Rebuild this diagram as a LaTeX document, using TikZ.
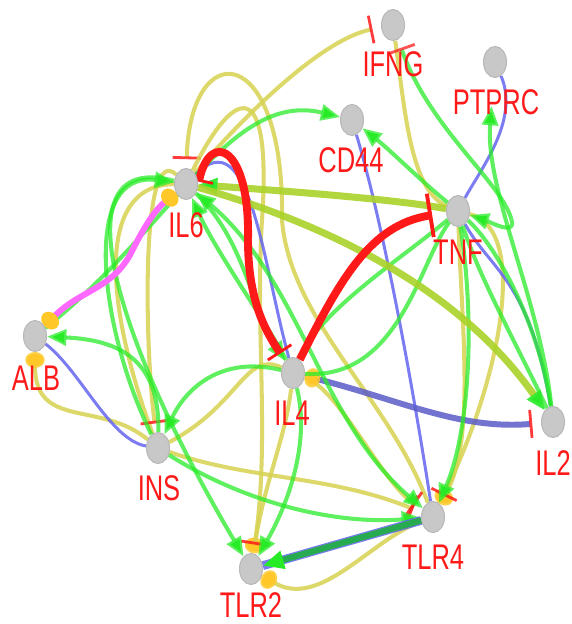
\documentclass[tikz,border=0pt]{standalone}
\usepackage{fontspec}
\setmainfont{Liberation Sans}
\usepackage{xcolor}
\usepackage{tikz}
\usetikzlibrary{arrows.meta, shapes.geometric}
\definecolor{actgreen}{RGB}{40,235,40}
\definecolor{exprkhaki}{RGB}{214,210,80}
\definecolor{bindblue}{RGB}{100,100,240}
\definecolor{deepblue}{RGB}{90,90,200}
\definecolor{inhred}{RGB}{255,25,25}
\definecolor{magline}{RGB}{255,105,255}
\definecolor{yglink}{RGB}{170,210,40}
\definecolor{ballorange}{RGB}{255,200,40}
\definecolor{genegray}{RGB}{200,200,200}
\definecolor{pairgreen}{RGB}{40,170,80}
\newcommand{\tallname}[1]{\scalebox{1}[1.4]{#1}}
\pgfdeclarelayer{edges}
\pgfsetlayers{edges,main}
\tikzset{
  tipact/.tip={Triangle[length=11pt,width=9pt]},
  tipactg/.tip={Triangle[length=11pt,width=9pt,color=actgreen]},
  tipinh/.tip={Bar[width=16pt,line width=1.6pt,color=inhred,sep=5pt]},
  tipinhbig/.tip={Bar[width=25pt,line width=2.2pt,color=inhred,sep=8pt]},
  tipball/.tip={Circle[length=9pt,width=11pt,color=ballorange]}
}

\begin{document}
\begin{tikzpicture}[
  x=0.02cm, y=-0.02cm,
  gene/.style={ellipse, fill=genegray, draw=genegray!92!black, line width=0.6pt,
               minimum width=0.46cm, minimum height=0.62cm, inner sep=0pt},
  lbl/.style={text=inhred, font=\fontsize{14.5}{15}\selectfont, inner sep=0pt},
  act/.style={draw=actgreen, line width=2.3pt, draw opacity=.75},
  expr/.style={draw=exprkhaki, line width=2.3pt, draw opacity=.85},
  bind/.style={draw=bindblue, line width=1.7pt, draw opacity=.85},
  inh/.style={draw=inhred, line width=4.5pt},
  mag/.style={draw=magline, line width=3.4pt},
  yg/.style={draw=yglink, line width=4pt, draw opacity=.9}
]
\useasboundingbox (0,0) rectangle (571,624);

\node[gene] (ifng) at (393,25) {};
\node[gene] (ptprc) at (495,62) {};
\node[gene] (cd44) at (352,120) {};
\node[gene] (il6) at (186,184) {};
\node[gene] (tnf) at (458,211) {};
\node[gene] (alb) at (35,336) {};
\node[gene] (il4) at (293,373) {};
\node[gene] (il2) at (553,422) {};
\node[gene] (ins) at (158,448) {};
\node[gene] (tlr4) at (433,517) {};
\node[gene] (tlr2) at (251,569) {};

\node[lbl] (ifng-l) at (393,64) {\tallname{IFNG}};
\node[lbl] (ptprc-l) at (496,102) {\tallname{PTPRC}};
\node[lbl] (cd44-l) at (351,160) {\tallname{CD44}};
\node[lbl] (il6-l) at (186,225) {\tallname{IL6}};
\node[lbl] (tnf-l) at (458,252) {\tallname{TNF}};
\node[lbl] (alb-l) at (36,378) {\tallname{ALB}};
\node[lbl] (il4-l) at (292,413) {\tallname{IL4}};
\node[lbl] (il2-l) at (553,463) {\tallname{IL2}};
\node[lbl] (ins-l) at (159,488) {\tallname{INS}};
\node[lbl] (tlr4-l) at (433,557) {\tallname{TLR4}};
\node[lbl] (tlr2-l) at (251,605) {\tallname{TLR2}};

\begin{pgfonlayer}{edges}
% khaki links
\draw[expr, -{tipinh}] (il6) .. controls (240,120) and (320,40) .. (ifng);
\draw[expr, {tipinh}-] (il6) .. controls (190,35) and (285,40) .. (282,220) .. controls (290,320) and (390,400) .. (tlr4);
\draw[expr, -{tipball}] (il6) .. controls (235,85) and (272,75) .. (262,220) .. controls (255,330) and (270,440) .. (tlr2);
\draw[expr] (il6) .. controls (90,185) and (110,320) .. (ins);
\draw[expr, -{tipinh}] (il6) .. controls (140,140) and (145,350) .. (ins);
\draw[expr, {tipball}-] (alb) .. controls (35,430) and (100,400) .. (ins);
\draw[expr] (ins) .. controls (240,405) and (245,350) .. (il4);
\draw[expr, -{tipinh}] (ins) .. controls (250,480) and (330,475) .. (tlr4);
\draw[expr, {tipball}-] (tlr2) .. controls (320,610) and (370,540) .. (tlr4);
\draw[expr, -{tipinh}] (il4) .. controls (285,440) and (265,480) .. (tlr2);
\draw[expr, -{tipball}] (tnf) .. controls (462,330) and (475,440) .. (tlr4);
\draw[expr, -{tipinh}] (tnf) .. controls (530,230) and (500,380) .. (tlr4);
\draw[expr, -{tipinh}] (il4) .. controls (340,390) and (380,480) .. (tlr4);
\draw[expr] (ifng) .. controls (405,110) and (410,190) .. (tnf);

% blue links
\draw[bind] (ptprc) .. controls (520,120) and (480,170) .. (tnf);
\draw[bind] (cd44) .. controls (385,230) and (415,400) .. (tlr4);
\draw[bind] (tnf) .. controls (490,270) and (530,280) .. (il2);
\draw[bind] (alb) .. controls (80,370) and (110,440) .. (ins);
\draw[bind] (il6) .. controls (250,120) and (262,260) .. (il4);
\draw[bind, draw=deepblue, line width=3.4pt, {tipball}-{tipinh}] (il4) .. controls (400,400) and (460,430) .. (il2);

% green links
\draw[act, -{tipact}] (alb) .. controls (170,230) and (230,90) .. (cd44);
\draw[act, -{tipact}] (ins) .. controls (100,330) and (80,170) .. (il6);
\draw[act, -{tipact}] (il6) .. controls (60,150) and (110,330) .. (tlr2);
\draw[act, -{tipact}] (ins) .. controls (160,360) and (120,340) .. (alb);
\draw[act, -{tipact}] (il4) .. controls (220,355) and (185,390) .. (ins);
\draw[act, {tipinh}-{tipact}] (ifng) .. controls (430,130) and (505,185) .. (512,222) .. controls (514,235) and (490,222) .. (tnf);
\draw[act, -{tipact}, shorten >=16pt] (il2) .. controls (540,300) and (485,190) .. (ptprc);
\draw[act, -{tipact}] (tnf) .. controls (420,180) and (390,150) .. (cd44);
\draw[act] (tnf) .. controls (400,260) and (320,310) .. (il4);
\draw[act] (tnf) .. controls (420,260) and (400,380) .. (il4);
\draw[act, -{tipact}] (il6) .. controls (245,240) and (252,310) .. (il4);
\draw[act, -{tipact}] (il4) .. controls (265,320) and (215,250) .. (il6);
\draw[act, {tipact}-{tipact}] (il6) .. controls (300,280) and (320,420) .. (tlr4);
\draw[act, -{tipact}] (il4) .. controls (310,440) and (290,500) .. (tlr2);
\draw[act, -{tipact}] (ins) .. controls (240,500) and (330,525) .. (tlr4);
\draw[act, -{tipact}] (tnf) .. controls (475,320) and (470,430) .. (tlr4);
\draw[act] (tnf) .. controls (480,280) and (520,350) .. (il2);
\draw[act] (tnf) .. controls (500,250) and (540,330) .. (il2);

% heavy links
\draw[yg, {tipactg}-] (il6) .. controls (300,192) and (400,200) .. (tnf);
\draw[yg, -{tipactg}] (il6) .. controls (330,225) and (460,290) .. (il2);
\draw[mag, {tipball}-{tipball}] (alb) .. controls (80,290) and (110,290) .. (130,255) .. controls (145,225) and (155,210) .. (il6);
\draw[inh, -{tipinhbig}] (il4) .. controls (340,280) and (370,225) .. (tnf);
\draw[inh, {tipinh}-{tipinh}] (il6.-30) .. controls (210,130) and (250,145) .. (248,240) .. controls (248,300) and (265,330) .. (il4);
\draw[bind, line width=5pt] (tlr4) -- (tlr2);
\draw[draw=pairgreen, line width=3.6pt, -{Triangle[length=12pt,width=10pt,color=actgreen]}] (tlr4) -- (tlr2);
\end{pgfonlayer}
\end{tikzpicture}
\end{document}
